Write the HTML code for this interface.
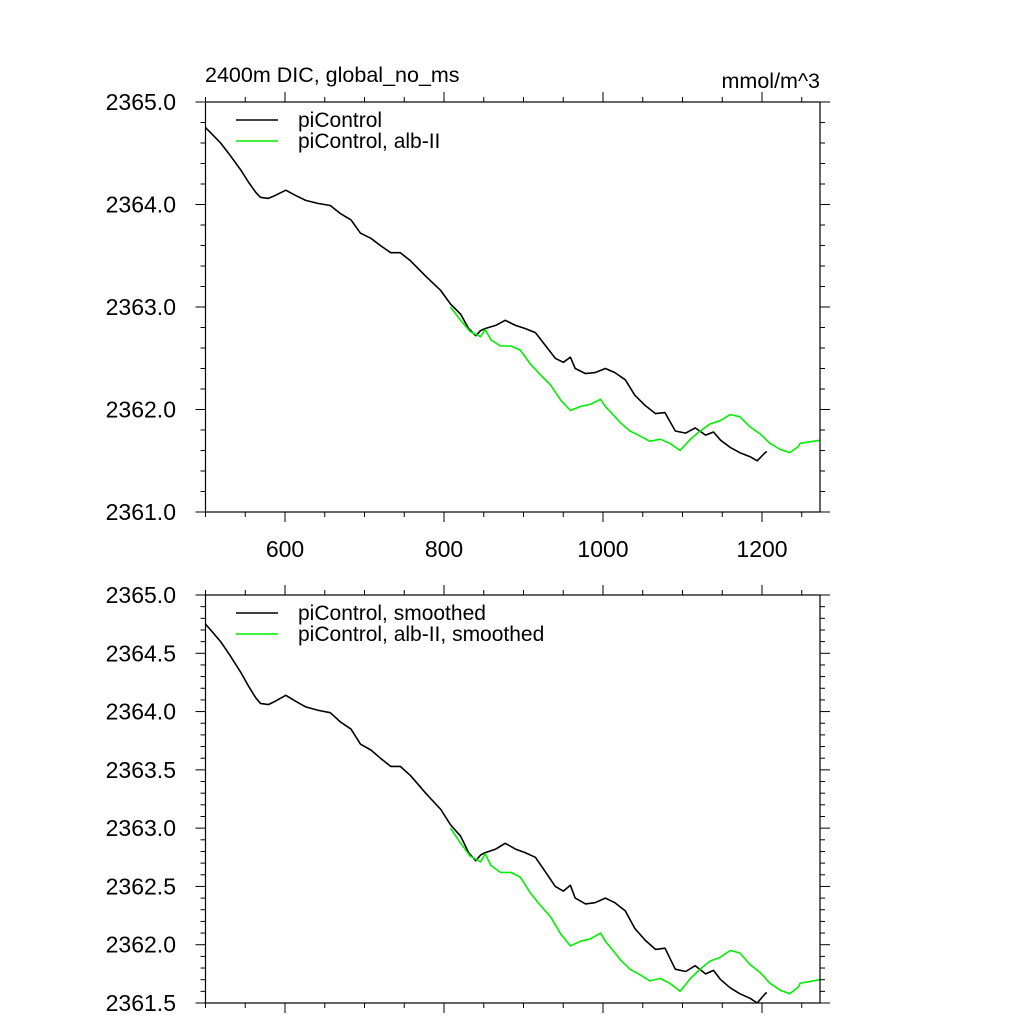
<!DOCTYPE html>
<html><head><meta charset="utf-8"><style>
html,body{margin:0;padding:0;background:#fff}
svg{display:block;font-family:"Liberation Sans",sans-serif}
</style></head><body>
<svg id="c" width="1024" height="1024" viewBox="0 0 1024 1024"></svg>
<script>
// data (year, DIC mmol/m^3)
const ctrlYears=[500,509,519,531,544,554,563,569,579,588,601,613,626,642,657,670,683,695,708,720,733,745,758,777,796,808,821,831,840,846,852,865,877,890,902,915,928,940,950,959,965,978,990,1003,1015,1028,1040,1053,1066,1078,1091,1104,1116,1129,1139,1148,1160,1172,1185,1194,1204,1206];
const ctrlVals=[2364.75,2364.68,2364.60,2364.48,2364.34,2364.22,2364.12,2364.07,2364.06,2364.09,2364.14,2364.09,2364.04,2364.01,2363.99,2363.91,2363.85,2363.72,2363.67,2363.60,2363.53,2363.53,2363.45,2363.30,2363.16,2363.03,2362.93,2362.79,2362.72,2362.77,2362.79,2362.82,2362.87,2362.82,2362.79,2362.75,2362.62,2362.50,2362.46,2362.51,2362.40,2362.35,2362.36,2362.40,2362.36,2362.29,2362.14,2362.04,2361.96,2361.97,2361.79,2361.77,2361.82,2361.75,2361.78,2361.70,2361.63,2361.58,2361.54,2361.50,2361.58,2361.59];
const albYears=[808,821,833,846,852,859,871,884,896,909,921,934,947,959,972,984,997,1003,1009,1022,1034,1047,1059,1072,1084,1097,1110,1122,1135,1147,1160,1172,1185,1198,1210,1223,1235,1246,1248,1273];
const albVals=[2363.00,2362.87,2362.76,2362.71,2362.78,2362.68,2362.62,2362.62,2362.58,2362.44,2362.34,2362.24,2362.09,2361.99,2362.03,2362.05,2362.10,2362.03,2361.98,2361.87,2361.79,2361.74,2361.69,2361.71,2361.67,2361.60,2361.71,2361.79,2361.86,2361.89,2361.95,2361.93,2361.83,2361.76,2361.67,2361.61,2361.58,2361.64,2361.67,2361.70];
// smoothed series (same visual curve)
const ctrlSmooth=ctrlVals.slice();
const albSmooth=albVals.slice();
const xMajor=[600,800,1000,1200];
const topYTicks=["2361.0","2362.0","2363.0","2364.0","2365.0"];
const botYTicks=["2361.5","2362.0","2362.5","2363.0","2363.5","2364.0","2364.5","2365.0"];

const svg=document.getElementById('c');
const NS='http://www.w3.org/2000/svg';
function mk(t,a,parent){const e=document.createElementNS(NS,t);for(const k in a)e.setAttribute(k,a[k]);(parent||svg).appendChild(e);return e;}
const L=205.5,R=820,XMIN=500,XMAX=500+(R-L)/0.795;
const sx=v=>L+(v-XMIN)*(R-L)/(XMAX-XMIN);

function panel(name,top,bot,ymin,ymax,yMajStep,yMinStep,yLabels,showX,series,legend){
  const g=mk('g',{});
  
  
  const sy=v=>bot-(v-ymin)*(bot-top)/(ymax-ymin);
  for(let v=XMIN;v<=XMAX+0.01;v+=50){
    const x=sx(v);const major=Math.abs(v%200)<0.01;const len=major?10:5;
    const t1=mk('line',{x1:x,x2:x,y1:bot,y2:bot+len,stroke:'#000','stroke-width':1},g);
    
    
    const t2=mk('line',{x1:x,x2:x,y1:top,y2:top-len,stroke:'#000','stroke-width':1},g);
    
    
  }
  const n=Math.round((ymax-ymin)/yMinStep);
  for(let i=0;i<=n;i++){
    const v=ymin+i*yMinStep;const y=sy(v);
    const major=Math.abs(((v-ymin)/yMajStep)-Math.round((v-ymin)/yMajStep))<1e-6;const len=major?10:5;
    const a=mk('line',{x1:L,x2:L-len,y1:y,y2:y,stroke:'#000','stroke-width':1},g);
    
    
    const b=mk('line',{x1:R,x2:R+len,y1:y,y2:y,stroke:'#000','stroke-width':1},g);
    
    
  }
  yLabels.forEach(s=>{
    const t=mk('text',{x:176,y:sy(parseFloat(s))+8,'text-anchor':'end','font-size':23},g);
    t.textContent=s;
    
    
  });
  if(showX) xMajor.forEach(v=>{
    const t=mk('text',{x:sx(v),y:bot+45,'text-anchor':'middle','font-size':23},g);
    t.textContent=String(v);
    
    
  });
  const cid='clip'+name;
  const cp=mk('clipPath',{id:cid},g);mk('rect',{x:L,y:top,width:R-L,height:bot-top},cp);
  series.forEach(s=>{
    const d=s.xs.map((x,i)=>(i?'L':'M')+sx(x).toFixed(1)+','+sy(s.ys[i]).toFixed(1)).join(' ');
    const p=mk('path',{d:d,fill:'none',stroke:s.color,'stroke-width':1.6,'stroke-linejoin':'round','clip-path':'url(#'+cid+')'},g);
    
    
  });
  const fr=mk('rect',{x:L,y:top,width:R-L,height:bot-top,fill:'none',stroke:'#000','stroke-width':1.2},g);
  
  
  legend.forEach((e,i)=>{
    const y=top+18+i*21;
    const ln=mk('line',{x1:236,x2:278,y1:y,y2:y,stroke:e.color,'stroke-width':1.5},g);
    
    
    const t=mk('text',{x:298,y:y+7,'font-size':21},g);
    t.textContent=e.label;
    
    
  });
}
panel('top-panel',102,512,2361,2365,1,0.2,topYTicks,true,
  [{name:'picontrol-line',xs:ctrlYears,ys:ctrlVals,color:'#000'},{name:'alb-ii-line',xs:albYears,ys:albVals,color:'#00ee00'}],
  [{label:'piControl',color:'#000'},{label:'piControl, alb-II',color:'#00ee00'}]);
panel('bottom-panel',595,1003,2361.5,2365,0.5,0.1,botYTicks,false,
  [{name:'picontrol-smoothed-line',xs:ctrlYears,ys:ctrlSmooth,color:'#000'},{name:'alb-ii-smoothed-line',xs:albYears,ys:albSmooth,color:'#00ee00'}],
  [{label:'piControl, smoothed',color:'#000'},{label:'piControl, alb-II, smoothed',color:'#00ee00'}]);
const t1=mk('text',{x:205,y:82,'font-size':21.5});t1.textContent='2400m DIC, global_no_ms';


const t2=mk('text',{x:820,y:88,'font-size':21.5,'text-anchor':'end'});t2.textContent='mmol/m^3';


</script>
</body></html>
